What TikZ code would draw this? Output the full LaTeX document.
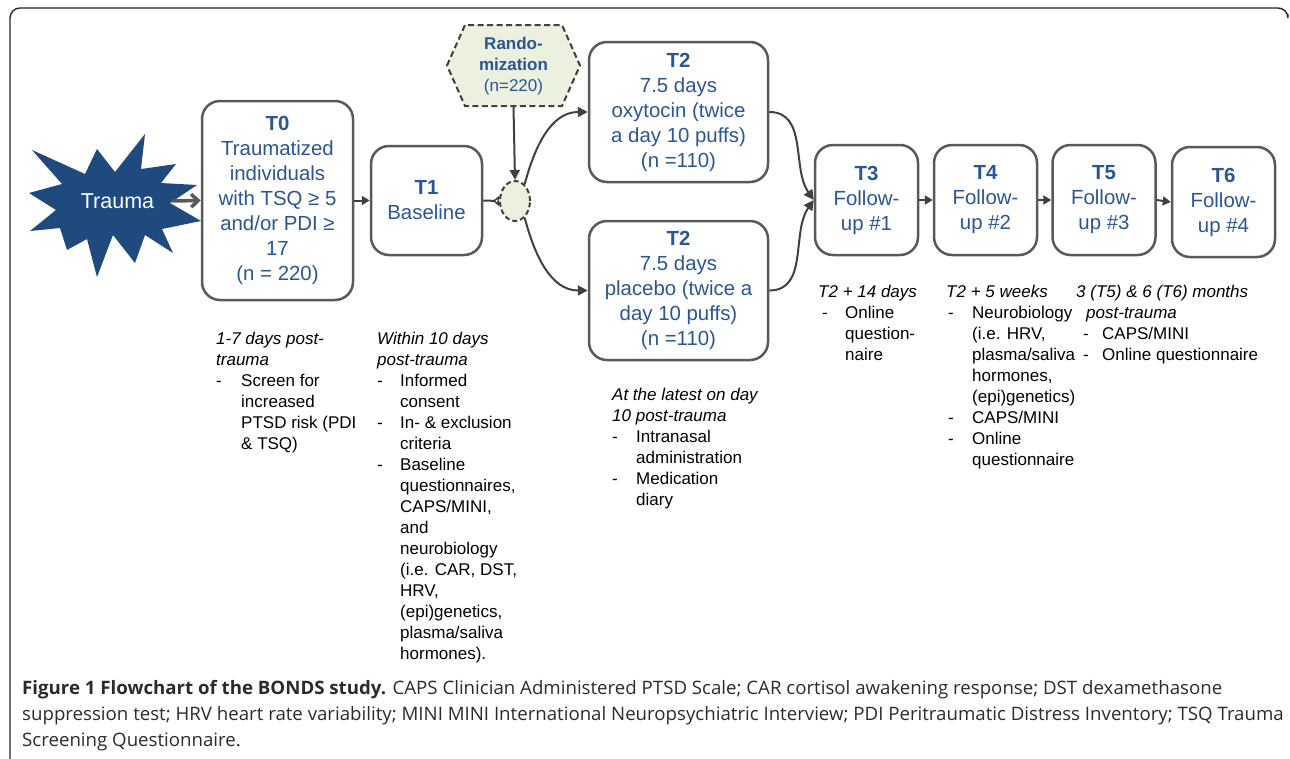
\documentclass[tikz,border=0pt]{standalone}
\usepackage{fontspec}
\usepackage{graphicx}
\setmainfont{Liberation Sans}
\newfontfamily\capfont{Open Sans}
\usetikzlibrary{shapes.geometric,arrows.meta,calc}
\definecolor{boxblue}{HTML}{2A5694}
\definecolor{stardark}{HTML}{1F4A7E}
\definecolor{bordergray}{HTML}{595959}
\definecolor{linegray}{HTML}{404040}
\definecolor{palegreen}{HTML}{EBF0DF}
\definecolor{capgray}{HTML}{2B2B2B}
\newcommand\dsh[1]{\makebox[#1][l]{-}}
\newcommand\capA{\textbf{Figure 1 Flowchart of the BONDS study.} CAPS Clinician Administered PTSD Scale; CAR cortisol awakening response; DST dexamethasone}
\newcommand\capB{suppression test; HRV heart rate variability; MINI MINI International Neuropsychiatric Interview; PDI Peritraumatic Distress Inventory; TSQ Trauma}
\newcommand\capC{Screening Questionnaire.}
\newsavebox\capbox
\begin{document}
\sbox\capbox{\capfont\fontsize{18.5}{26}\selectfont\capA}%
\pgfmathsetmacro\capscale{1200/\wd\capbox}%
\begin{tikzpicture}[x=1pt,y=1pt,
  stagebox/.style={draw=bordergray, line width=2.5pt, rounded corners=18pt, fill=white, text=boxblue, align=center, inner sep=0pt, font=\fontsize{20.4}{25}\selectfont},
  conn/.style={draw=linegray, line width=2pt},
  tip/.style={-{Triangle[length=8pt,width=9pt]}},
  note/.style={anchor=north west, align=left, inner sep=0pt, font=\fontsize{17}{21}\selectfont, text=black},
  capline/.style={anchor=base west, inner sep=0pt, text=capgray, font=\capfont\fontsize{18.5}{26}\selectfont}]
\useasboundingbox (0,0) rectangle (1290,-758);

% outer frame
\draw[line width=1.4pt, draw=black!85, rounded corners=10pt] (10,-762) -- (10,-8) -- (1288,-8) -- (1288,-14);

% trauma star
\fill[stardark] (32,-150) -- (85,-174) -- (97,-149) -- (115,-172) -- (145,-134) -- (141,-169) -- (176,-164) -- (161,-183) -- (197,-185) -- (170,-203) -- (201,-221) -- (162,-229) -- (173,-253) -- (145,-235) -- (135,-263) -- (113,-235) -- (97,-277) -- (87,-239) -- (67,-250) -- (60,-228) -- (30,-231) -- (56,-210) -- (29,-193) -- (62,-184) -- cycle;
\node[text=white, inner sep=0pt, font=\fontsize{21.5}{25}\selectfont] (trauma) at (117.5,-201) {Trauma};
\coordinate (traumaR) at (172,-201);

% randomization hexagon
\path[draw=linegray, fill=palegreen, line width=2pt, dash pattern=on 6pt off 3.5pt] (447,-65.5) -- (465,-25) -- (562,-25) -- (580,-65.5) -- (562,-106) -- (465,-106) -- cycle;
\node[inner sep=0pt, minimum width=133pt, minimum height=81pt, text=boxblue, align=center, font=\fontsize{17}{21}\selectfont] (rand) at (513.5,-66.5) {\textbf{Rando-}\\\textbf{mization}\\(n=220)};

% stage boxes
\node[stagebox, minimum width=151pt, minimum height=199pt] (T0) at (277.5,-200.5) {\textbf{T0}\\Traumatized\\individuals\\with TSQ ≥ 5\\and/or PDI ≥\\17\\(n = 220)};
\node[stagebox, minimum width=111pt, minimum height=109pt] (T1) at (426.5,-200.5) {\textbf{T1}\\Baseline};
\node[ellipse, draw=linegray, fill=palegreen, line width=2pt, dash pattern=on 5pt off 3pt, minimum width=30pt, minimum height=40pt, inner sep=0pt] (rnd) at (515,-201) {};
\node[stagebox, minimum width=179pt, minimum height=140pt] (T2a) at (678.5,-112) {\textbf{T2}\\7.5 days\\oxytocin (twice\\a day 10 puffs)\\(n =110)};
\node[stagebox, minimum width=179pt, minimum height=139pt] (T2b) at (678.5,-290.5) {\textbf{T2}\\7.5 days\\placebo (twice a\\day 10 puffs)\\(n =110)};
\node[stagebox, minimum width=103pt, minimum height=110pt] (T3) at (866.5,-200) {\textbf{T3}\\Follow-\\up \#1};
\node[stagebox, minimum width=103pt, minimum height=110pt] (T4) at (985.5,-200) {\textbf{T4}\\Follow-\\up \#2};
\node[stagebox, minimum width=103pt, minimum height=110pt] (T5) at (1104,-200) {\textbf{T5}\\Follow-\\up \#3};
\node[stagebox, minimum width=103pt, minimum height=110pt] (T6) at (1223.5,-202) {\textbf{T6}\\Follow-\\up \#4};

% connectors
\draw[draw=bordergray, line width=3.5pt, -{Straight Barb[length=7pt,width=13pt]}] (traumaR) -- (T0.west);
\draw[conn, tip] (T0.east) -- (T1.west);
\draw[conn, -{Triangle[open, reversed, length=6pt, width=10pt]}] (T1.east) -- (rnd.west);
\draw[conn, -{Triangle[length=10pt,width=10pt]}] (rand.south) -- (rnd.north);
\draw[conn, -{Triangle[length=10pt,width=10pt]}] (rnd.60) to[out=75,in=180] (T2a.west);
\draw[conn, -{Triangle[length=10pt,width=10pt]}] (rnd.-60) to[out=-75,in=180] (T2b.west);
\draw[conn, -{Triangle[length=10pt,width=10pt]}] (T2a.east) to[out=0,in=125] (T3.west);
\draw[conn, -{Triangle[length=10pt,width=10pt]}] (T2b.east) to[out=0,in=-125] (T3.west);
\draw[conn, tip] (T3.east) -- (T4.west);
\draw[conn, tip] (T4.east) -- (T5.west);
\draw[conn, tip] (T5.east) -- (T6.west);

% notes
\node[note] (n0) at (216,-331.5) {\textit{1-7 days post-}\\\textit{trauma}\\\dsh{25pt}Screen for\\\hspace*{25pt}increased\\\hspace*{25pt}PTSD risk (PDI\\\hspace*{25pt}\& TSQ)};
\node[note] (n1) at (377,-331.5) {\textit{Within 10 days}\\\textit{post-trauma}\\\dsh{23pt}Informed\\\hspace*{23pt}consent\\\dsh{23pt}In- \& exclusion\\\hspace*{23pt}criteria\\\dsh{23pt}Baseline\\\hspace*{23pt}questionnaires,\\\hspace*{23pt}CAPS/MINI,\\\hspace*{23pt}and\\\hspace*{23pt}neurobiology\\\hspace*{23pt}(i.e. CAR, DST,\\\hspace*{23pt}HRV,\\\hspace*{23pt}(epi)genetics,\\\hspace*{23pt}plasma/saliva\\\hspace*{23pt}hormones).};
\node[note] (n2) at (612,-388) {\textit{At the latest on day}\\\textit{10 post-trauma}\\\dsh{24pt}Intranasal\\\hspace*{24pt}administration\\\dsh{24pt}Medication\\\hspace*{24pt}diary};
\node[note] (n3) at (818,-285) {\textit{T2 + 14 days}\\\hspace*{4pt}\dsh{23pt}Online\\\hspace*{27pt}question-\\\hspace*{27pt}naire};
\node[note] (n4) at (946,-285) {\textit{T2 + 5 weeks}\\\hspace*{2pt}\dsh{24pt}Neurobiology\\\hspace*{26pt}(i.e. HRV,\\\hspace*{26pt}plasma/saliva\\\hspace*{26pt}hormones,\\\hspace*{26pt}(epi)genetics)\\\hspace*{2pt}\dsh{24pt}CAPS/MINI\\\hspace*{2pt}\dsh{24pt}Online\\\hspace*{26pt}questionnaire};
\node[note] (n5) at (1076,-285) {\textit{3 (T5) \& 6 (T6) months}\\\hspace*{10pt}\textit{post-trauma}\\\hspace*{7pt}\dsh{19pt}CAPS/MINI\\\hspace*{7pt}\dsh{19pt}Online questionnaire};

% caption
\node[capline] (c1) at (22,-694) {\scalebox{\capscale}[1]{\capA}};
\node[capline] (c2) at (22,-720) {\scalebox{\capscale}[1]{\capB}};
\node[capline] (c3) at (22,-746) {\scalebox{\capscale}[1]{\capC}};
\end{tikzpicture}
\end{document}
